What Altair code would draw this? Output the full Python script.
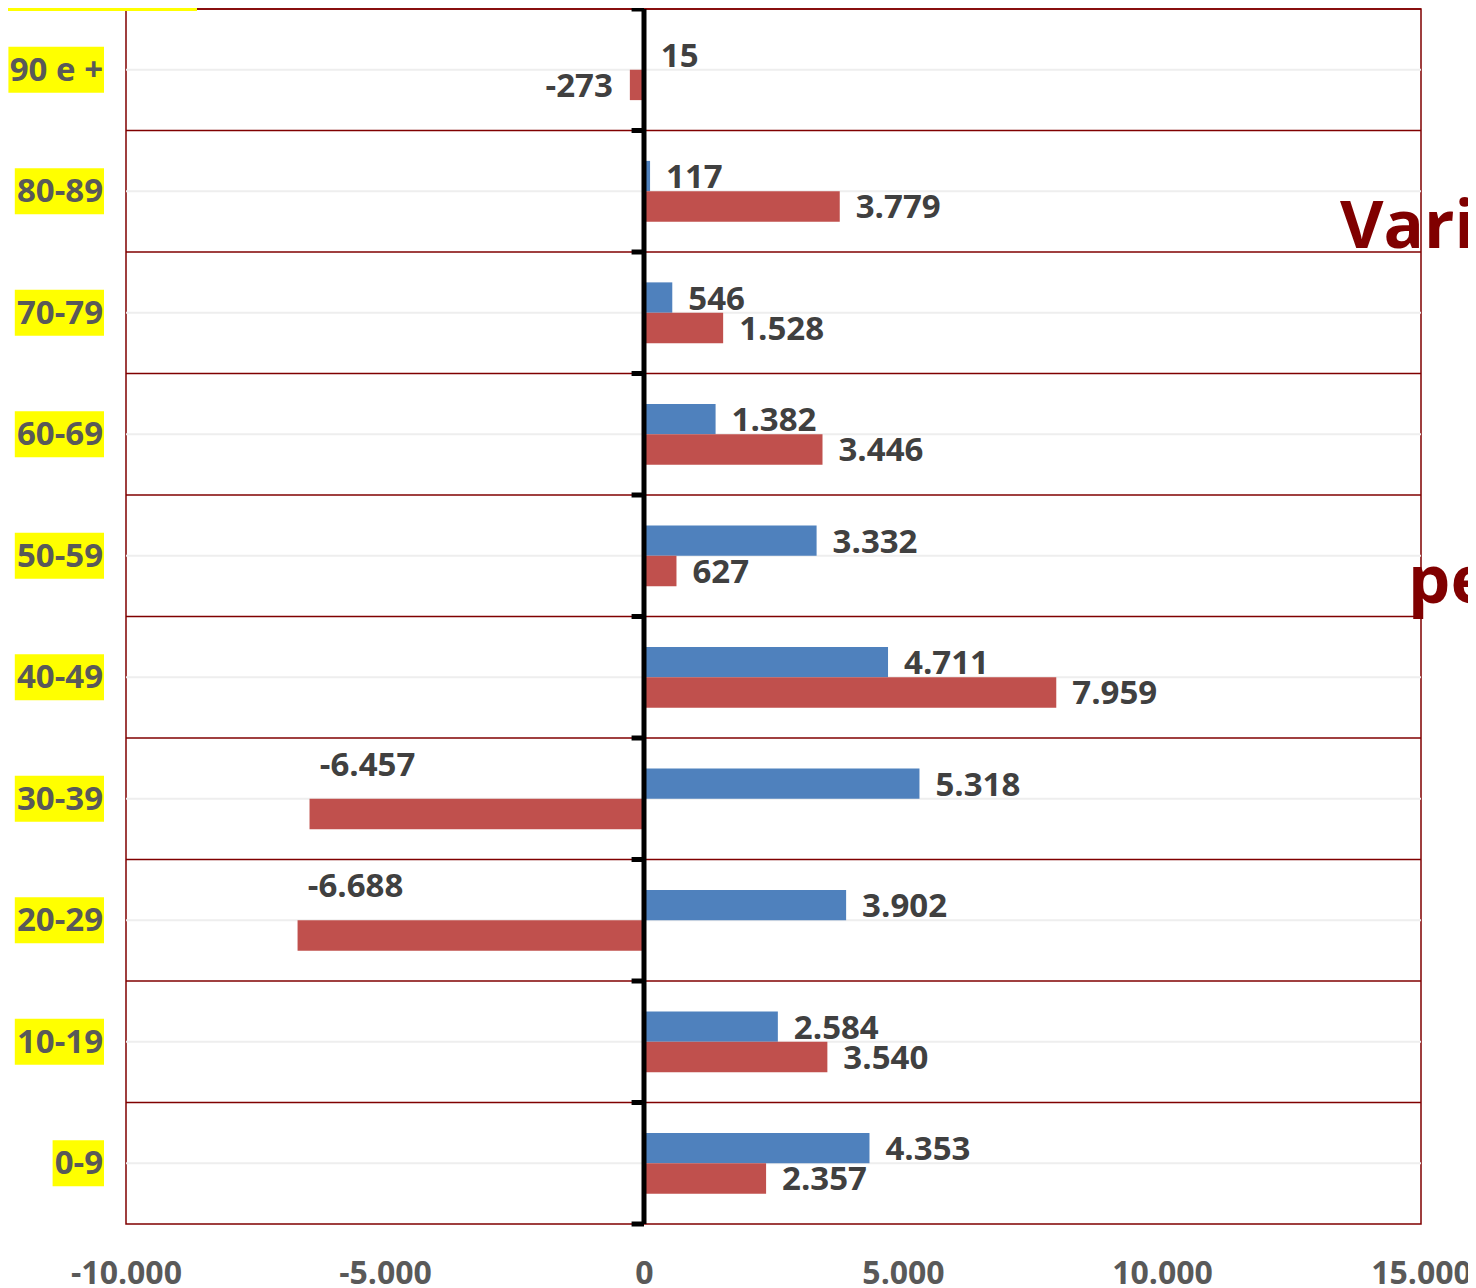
import altair as alt
import pandas as pd

# ---------------- data ----------------
ages = ["90 e +", "80-89", "70-79", "60-69", "50-59", "40-49", "30-39", "20-29", "10-19", "0-9"]
series_names = ["Serie1", "Serie2"]
serie1 = [15, 117, 546, 1382, 3332, 4711, 5318, 3902, 2584, 4353]
serie2 = [-273, 3779, 1528, 3446, 627, 7959, -6457, -6688, 3540, 2357]
x_ticks = [-10000, -5000, 0, 5000, 10000, 15000]
side_texts = ["Varia", "pe"]
colors = ["#4F81BD", "#C0504D"]

# ---------------- layout ----------------
W, H = 1295, 1215
XMIN, XMAX = -10000, 15000
FONT = "Open Sans"
DARKRED = "#800000"

rows = []
for a, v1, v2 in zip(ages, serie1, serie2):
    rows.append({"age": a, "serie": series_names[0], "value": v1})
    rows.append({"age": a, "serie": series_names[1], "value": v2})
df = pd.DataFrame(rows)
cat_df = pd.DataFrame({"age": ages})
one = pd.DataFrame({"k": [0]})

num_fmt = "(datum.value < 0 ? '-' : '') + replace(format(abs(datum.value), ',d'), /,/g, '.')"

xscale = alt.Scale(domain=[XMIN, XMAX], nice=False, zero=False)
yscale = alt.Scale(domain=ages, paddingInner=0, paddingOuter=0)
yoff = alt.YOffset("serie:N", scale=alt.Scale(domain=series_names, paddingInner=0, paddingOuter=1))

xaxis = alt.Axis(values=x_ticks, labelExpr=num_fmt, grid=False, ticks=False, domain=False,
                 labelFont=FONT, labelFontWeight="bold", labelFontSize=32, labelColor="#595959",
                 labelPadding=34, title=None, labelFlush=False, labelOverlap=False)

Y = lambda bp=0.5: alt.Y("age:N", scale=yscale, axis=None, bandPosition=bp)

# grid at band centres
grid = alt.Chart(cat_df).mark_rule(color="#EEEEEE", strokeWidth=2).encode(
    y=Y(0.5), x=alt.value(0), x2=alt.value(W))

# dark red separators at band boundaries
seps = alt.Chart(cat_df).mark_rule(color=DARKRED, strokeWidth=1.5).encode(
    y=Y(0), x=alt.value(0), x2=alt.value(W))

bars = alt.Chart(df).mark_bar().encode(
    x=alt.X("value:Q", scale=xscale, axis=xaxis),
    y=Y(0.5),
    yOffset=yoff,
    color=alt.Color("serie:N", scale=alt.Scale(domain=series_names, range=colors), legend=None),
)

lab_base = alt.Chart(df).transform_calculate(lab=num_fmt)
txt_style = dict(font=FONT, fontWeight="bold", fontSize=33, color="#404040", baseline="middle")

lab_pos = lab_base.transform_filter("datum.value >= 0").mark_text(
    align="left", dx=16, dy=2, **txt_style).encode(
    x=alt.X("value:Q", scale=xscale), y=Y(0.5), yOffset=yoff, text="lab:N")
lab_negs = lab_base.transform_filter("datum.value < 0 && datum.value > -1000").mark_text(
    align="right", dx=-17, dy=2, **txt_style).encode(
    x=alt.X("value:Q", scale=xscale), y=Y(0.5), yOffset=yoff, text="lab:N")
lab_negb = lab_base.transform_filter("datum.value <= -1000").mark_text(
    align="center", dx=58, dy=-48, **txt_style).encode(
    x=alt.X("value:Q", scale=xscale), y=Y(0.5), yOffset=yoff, text="lab:N")

# zero axis line with ticks
zero_line = alt.Chart(one).mark_rule(color="black", strokeWidth=5).encode(
    x=alt.datum(0), y=alt.value(0), y2=alt.value(H))
zticks = alt.Chart(cat_df).mark_rule(color="black", strokeWidth=5).encode(
    y=Y(0), x=alt.datum(-240), x2=alt.datum(0))
zbottom = alt.Chart(one).mark_rule(color="black", strokeWidth=5).encode(
    y=alt.value(H), x=alt.datum(-240), x2=alt.datum(0))

# category labels with yellow highlight
LBL_RIGHT = -23
wexpr = ("18.9*length(replace(datum.age, /[^0-9]/g, ''))"
         " + 10.6*length(replace(datum.age, /[^-]/g, ''))"
         " + 8.6*length(replace(datum.age, /[^ ]/g, ''))"
         " + 18.8*length(replace(datum.age, /[0-9 -]/g, ''))")
k = (XMAX - XMIN) / W
hl = alt.Chart(cat_df).transform_calculate(w=wexpr).transform_calculate(
    xa=f"{XMIN} + ({LBL_RIGHT} - datum.w - 2) * {k}",
    xb=f"{XMIN} + ({LBL_RIGHT} + 1) * {k}",
).mark_bar(color="#FFFF00", height=46).encode(
    y=Y(0.5), x=alt.X("xa:Q", scale=xscale), x2="xb:Q")
cat_lbl = alt.Chart(cat_df).mark_text(align="right", baseline="middle", font=FONT, fontWeight="bold",
                                      fontSize=33, color="#595959", dy=1).encode(
    y=Y(0.5), x=alt.value(LBL_RIGHT), text="age:N")

# partial yellow box at the top-left corner
top_box = alt.Chart(one).mark_rect(color="#FFFF00").encode(
    x=alt.value(-118), x2=alt.value(71), y=alt.value(-9), y2=alt.value(2))

# side title fragments
t1 = alt.Chart(one).mark_text(align="left", baseline="alphabetic", font=FONT, fontWeight="bold",
                              fontSize=67, color=DARKRED).encode(
    x=alt.value(1214), y=alt.value(239), text=alt.value(side_texts[0]))
t2 = alt.Chart(one).mark_text(align="left", baseline="alphabetic", font=FONT, fontWeight="bold",
                              fontSize=67, color=DARKRED).encode(
    x=alt.value(1282), y=alt.value(594), text=alt.value(side_texts[1]))

chart = alt.layer(
    grid, seps, bars, lab_pos, lab_negs, lab_negb, zero_line, zticks, zbottom,
    hl, cat_lbl, top_box, t1, t2
).properties(
    width=W, height=H,
    autosize=alt.AutoSizeParams(type="none"),
    padding={"left": 118, "top": 1, "right": 47, "bottom": 60},
).configure_view(stroke=DARKRED, strokeWidth=1.5)

chart.save("out.html", embed_options={"renderer": "svg", "actions": False})
